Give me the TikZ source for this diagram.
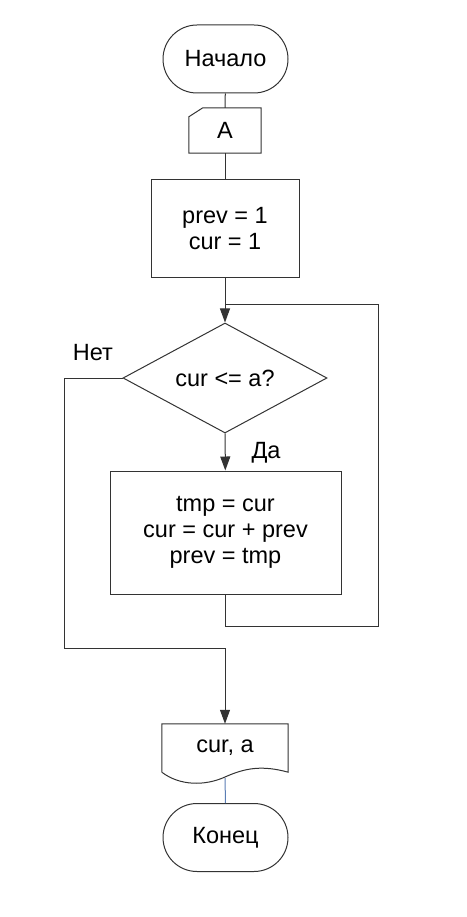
\documentclass[tikz,border=0pt]{standalone}
\usepackage{fontspec}
\setmainfont{Liberation Sans}
\usetikzlibrary{shapes.geometric,arrows.meta}
\begin{document}
\begin{tikzpicture}[x=1pt,y=-1pt,
  every node/.style={font=\fontsize{23.5}{26}\selectfont, text=black, align=center},
  ln/.style={draw=black!80, line width=1pt},
  arr/.style={ln, -{Triangle[length=14pt,width=10pt]}},
  term/.style={ln, rectangle, rounded corners=34pt, minimum width=125pt, minimum height=68pt, inner sep=0pt},
  proc/.style={ln, rectangle, inner sep=0pt},
  lbl/.style={inner sep=0pt}
]
\useasboundingbox (0,0) rectangle (466,917);
% nodes
\node[term] (start) at (225.5,59) {Начало};
\node[inner sep=0pt, minimum width=72pt, minimum height=45pt] (A) at (225,130.5) {A};
\draw[ln] (A.south west) -- (A.south east) -- (A.north east) -- ([xshift=14pt]A.north west) -- ([yshift=-9pt]A.north west) -- cycle;
\node[proc, minimum width=148pt, minimum height=97pt] (init) at (225,228.5) {prev = 1\\cur = 1};
\node[ln, diamond, aspect=1.85, inner sep=0pt, minimum width=204pt, minimum height=110pt] (dec) at (225,378) {cur <= a?};
\node[proc, minimum width=231pt, minimum height=123pt] (body) at (225.5,532.5) {tmp = cur\\cur = cur + prev\\prev = tmp};
\node[inner sep=0pt, minimum width=126pt, minimum height=48pt] (out) at (225,748) {cur, a};
\draw[ln] (out.south west) -- (out.north west) -- (out.north east) -- (out.south east)
  .. controls (262,765) and (245,768) .. (225,777) .. controls (205,786) and (180,786) .. (out.south west);
\node[term] (end) at (225.5,837.5) {Конец};
\node[lbl] (no) at (93,353) {Нет};
\node[lbl] (yes) at (266,453) {Да};
% coordinates
\coordinate (j) at (225,304);
\coordinate (rt) at (378,304);
\coordinate (rb) at (378,626);
\coordinate (lb) at (64,648);
\coordinate (mid) at (225,648);
\coordinate (wb) at (225,778);
% connectors
\draw[ln] (start) -- (A);
\draw[ln] (A) -- (init);
\draw[arr] (init) -- (dec);
\draw[arr] (dec) -- (body);
\draw[ln] (body.south) |- (rb) -- (rt) -- (j);
\draw[ln] (dec.west) -| (lb) -- (mid);
\draw[arr] (mid) -- (out.north);
\draw[draw={rgb,255:red,90;green,125;blue,180}, line width=1pt] (wb) -- (end.north);
\end{tikzpicture}
\end{document}
